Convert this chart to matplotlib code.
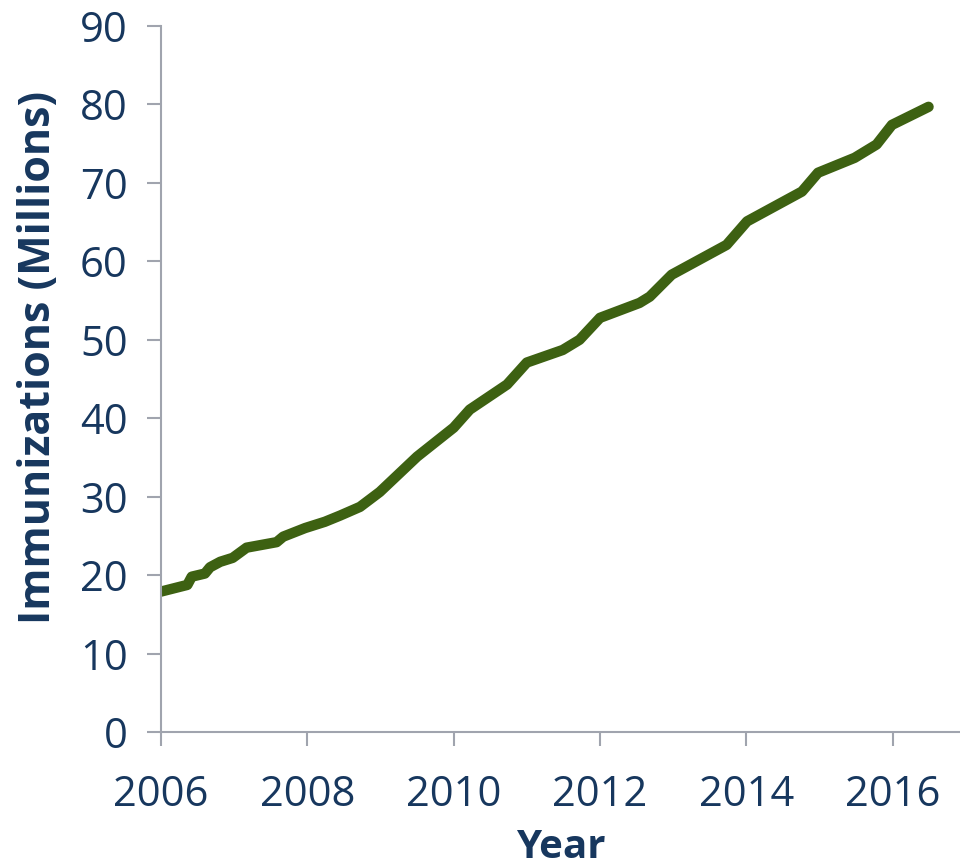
import matplotlib
matplotlib.use("Agg")
import matplotlib.pyplot as plt

# data (decimal year, millions of immunizations)
years = [2006.0, 2006.36, 2006.42, 2006.60, 2006.67, 2006.81, 2006.98, 2007.17,
         2007.58, 2007.67, 2007.97, 2008.24, 2008.45, 2008.72, 2008.99, 2009.50,
         2010.0, 2010.22, 2010.73, 2011.0, 2011.49, 2011.72, 2012.0, 2012.54,
         2012.68, 2012.98, 2013.73, 2014.01, 2014.76, 2014.98, 2015.48, 2015.78,
         2015.99, 2016.49]
immunizations = [17.9, 18.75, 19.8, 20.2, 21.0, 21.7, 22.2, 23.5,
                 24.2, 24.9, 26.0, 26.8, 27.6, 28.7, 30.6, 35.1,
                 38.8, 41.1, 44.3, 47.1, 48.7, 50.0, 52.8, 54.7,
                 55.5, 58.3, 62.1, 65.1, 68.9, 71.3, 73.2, 74.9,
                 77.4, 79.7]
xticks = [2006, 2008, 2010, 2012, 2014, 2016]
yticks = [0, 10, 20, 30, 40, 50, 60, 70, 80, 90]

text_col = "#17375E"
axis_col = "#A0A4AE"
line_col = "#3D6112"

plt.rcParams['font.family'] = ['Open Sans', 'DejaVu Sans']

fig = plt.figure(figsize=(9.6, 8.68), dpi=100)
ax = fig.add_axes([0.1677, 0.1567, 0.8323, 0.8133])

ax.plot(years, immunizations, color=line_col, linewidth=7.5, solid_capstyle="round",
        solid_joinstyle="round")

ax.set_xlim(2006, 2016.92)
ax.set_ylim(0, 90)
ax.set_xticks(xticks)
ax.set_yticks(yticks)

for s in ["top", "right"]:
    ax.spines[s].set_visible(False)
for s in ["left", "bottom"]:
    ax.spines[s].set_color(axis_col)
    ax.spines[s].set_linewidth(1.5)

ax.tick_params(axis="both", direction="out", length=10, width=1.5, color=axis_col,
               labelcolor=text_col, labelsize=30)
ax.tick_params(axis="y", pad=14)
ax.tick_params(axis="x", pad=20)

ax.set_xlabel("Year", fontsize=29, fontweight="bold", color=text_col, labelpad=9)
ax.set_ylabel("Immunizations (Millions)", fontsize=31, fontweight="bold", color=text_col,
              labelpad=14)
ax.yaxis.label.set_y(0.53)

fig.savefig("out.png", dpi=100)
